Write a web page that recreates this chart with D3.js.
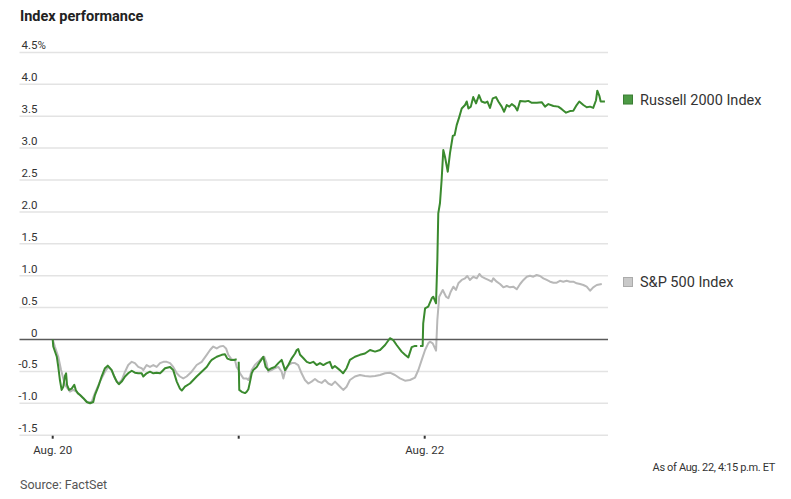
<!DOCTYPE html>
<html>
<head>
<meta charset="utf-8">
<script src="https://cdn.jsdelivr.net/npm/d3@7"></script>
<style>
  html, body { margin: 0; padding: 0; background: #fff; }
  svg { display: block; }
</style>
</head>
<body>
<svg id="chart" width="791" height="499"></svg>
<script>
// ---- DATA (time in trading days since Aug. 20 open; values in % change) ----
const dayTicks = [0, 1, 2];
const dayLabels = ["Aug. 20", "", "Aug. 22"];
const yTicks = [-1.5, -1.0, -0.5, 0, 0.5, 1.0, 1.5, 2.0, 2.5, 3.0, 3.5, 4.0, 4.5];
const yTickLabels = ["-1.5", "-1.0", "-0.5", "0", "0.5", "1.0", "1.5", "2.0", "2.5", "3.0", "3.5", "4.0", "4.5"];
const seriesNames = ["Russell 2000 Index", "S&P 500 Index"];

const russellTimes = [
  0, 0.003, 0.022, 0.030, 0.039, 0.048, 0.057, 0.066, 0.072, 0.077, 0.088, 0.102, 0.116, 0.124, 0.134, 0.147,
  0.165, 0.183, 0.201, 0.218, 0.227, 0.245, 0.263, 0.281, 0.296, 0.308, 0.317, 0.331, 0.344, 0.356, 0.371,
  0.389, 0.406, 0.425, 0.442, 0.460, 0.478, 0.487, 0.505, 0.523, 0.541, 0.559, 0.577, 0.586, 0.604, 0.631,
  0.648, 0.667, 0.684, 0.694, 0.711, 0.738, 0.774, 0.801, 0.828, 0.846, 0.855, 0.882, 0.909, 0.926, 0.939,
  0.957, 0.975, 0.989, 0.995,
  1.000, 1.003, 1.016, 1.034, 1.043, 1.052, 1.061, 1.070, 1.078, 1.097, 1.114, 1.132, 1.145, 1.159, 1.177,
  1.195, 1.213, 1.231, 1.249, 1.267, 1.285, 1.303, 1.312, 1.320, 1.330, 1.347, 1.366, 1.383, 1.401, 1.419,
  1.437, 1.455, 1.473, 1.490, 1.503, 1.517, 1.544, 1.561, 1.580, 1.598, 1.625, 1.652, 1.679, 1.706, 1.733,
  1.760, 1.787, 1.813, 1.831, 1.849, 1.876, 1.894, 1.912, 1.930, 1.948, 1.960, 1.968,
  1.975, 1.989, 1.992, 2.002, 2.019, 2.038, 2.046, 2.061, 2.068, 2.073, 2.082, 2.091, 2.100, 2.109, 2.124,
  2.136, 2.151, 2.161, 2.172, 2.186, 2.199, 2.217, 2.226, 2.235, 2.248, 2.261, 2.276, 2.292, 2.306, 2.324,
  2.337, 2.351, 2.366, 2.383, 2.396, 2.414, 2.427, 2.441, 2.455, 2.468, 2.486, 2.498, 2.513, 2.540, 2.557,
  2.576, 2.603, 2.629, 2.647, 2.665, 2.692, 2.718, 2.737, 2.760, 2.781, 2.799, 2.817, 2.831, 2.853, 2.871,
  2.889, 2.906, 2.921, 2.928, 2.939, 2.946, 2.969
];
const russellValues = [
  0, -0.11, -0.27, -0.43, -0.64, -0.79, -0.74, -0.57, -0.53, -0.71, -0.79, -0.77, -0.71, -0.79, -0.84, -0.87,
  -0.92, -0.98, -1.00, -0.98, -0.87, -0.74, -0.58, -0.45, -0.41, -0.45, -0.48, -0.58, -0.66, -0.70, -0.66,
  -0.58, -0.53, -0.49, -0.52, -0.53, -0.53, -0.58, -0.53, -0.505, -0.53, -0.52, -0.53, -0.505, -0.45, -0.43,
  -0.48, -0.66, -0.77, -0.80, -0.74, -0.69, -0.58, -0.505, -0.43, -0.35, -0.32, -0.27, -0.24, -0.23, -0.30,
  -0.32, -0.32, -0.31, null,
  -0.35, -0.79, -0.82, -0.84, -0.82, -0.78, -0.66, -0.53, -0.48, -0.43, -0.35, -0.27, -0.43, -0.48, -0.45,
  -0.43, -0.37, -0.32, -0.48, -0.40, -0.295, -0.22, -0.165, -0.15, -0.24, -0.29, -0.35, -0.37, -0.35, -0.40,
  -0.37, -0.40, -0.37, -0.35, -0.45, -0.415, -0.48, -0.53, -0.45, -0.32, -0.27, -0.24, -0.22, -0.165, -0.19,
  -0.165, -0.086, 0.02, -0.01, -0.086, -0.19, -0.24, -0.28, -0.12, -0.10, -0.10, null,
  -0.10, -0.10, 0.254, 0.489, 0.514, 0.646, 0.671, 0.567, 1.246, 1.978, 2.135, 2.50, 2.97, 2.865, 2.63,
  2.92, 3.19, 3.205, 3.36, 3.49, 3.62, 3.675, 3.73, 3.62, 3.65, 3.80, 3.70, 3.83, 3.73, 3.71,
  3.73, 3.63, 3.78, 3.80, 3.73, 3.65, 3.57, 3.675, 3.65, 3.69, 3.65, 3.59, 3.74, 3.73, 3.74,
  3.71, 3.71, 3.72, 3.65, 3.69, 3.66, 3.65, 3.61, 3.555, 3.58, 3.585, 3.675, 3.73, 3.675, 3.64,
  3.65, 3.63, 3.75, 3.90, 3.82, 3.73, 3.73
];

const spTimes = [
  0, 0.012, 0.030, 0.045, 0.066, 0.093, 0.111, 0.129, 0.147, 0.174, 0.191, 0.210, 0.227, 0.254, 0.281, 0.299,
  0.317, 0.335, 0.353, 0.371, 0.389, 0.406, 0.425, 0.442, 0.460, 0.478, 0.487, 0.505, 0.523, 0.541, 0.559,
  0.577, 0.595, 0.613, 0.631, 0.648, 0.667, 0.684, 0.702, 0.720, 0.747, 0.774, 0.801, 0.828, 0.846, 0.863,
  0.882, 0.899, 0.917, 0.932, 0.944, 0.962, 0.980, 0.989,
  1.000, 1.007, 1.025, 1.043, 1.052, 1.061, 1.070, 1.087, 1.105, 1.123, 1.137, 1.150, 1.159, 1.177, 1.195,
  1.213, 1.231, 1.240, 1.249, 1.267, 1.285, 1.303, 1.320, 1.338, 1.356, 1.374, 1.392, 1.410, 1.428, 1.446,
  1.464, 1.482, 1.500, 1.518, 1.545, 1.562, 1.580, 1.598, 1.625, 1.652, 1.679, 1.706, 1.733, 1.760, 1.787,
  1.813, 1.840, 1.867, 1.894, 1.921, 1.948, 1.966, 1.984,
  2.002, 2.019, 2.028, 2.043, 2.061, 2.068, 2.078, 2.097, 2.115, 2.127, 2.140, 2.154, 2.168, 2.181, 2.199,
  2.217, 2.229, 2.243, 2.261, 2.280, 2.294, 2.306, 2.324, 2.342, 2.360, 2.369, 2.387, 2.405, 2.423, 2.441,
  2.459, 2.476, 2.495, 2.513, 2.531, 2.549, 2.566, 2.584, 2.602, 2.620, 2.638, 2.656, 2.674, 2.692, 2.710,
  2.727, 2.745, 2.763, 2.781, 2.799, 2.817, 2.835, 2.853, 2.871, 2.889, 2.906, 2.925, 2.952
];
const spValues = [
  0, -0.113, -0.27, -0.478, -0.713, -0.818, -0.79, -0.82, -0.87, -0.95, -0.99, -0.975, -0.84, -0.66, -0.505, -0.43,
  -0.48, -0.61, -0.69, -0.635, -0.505, -0.40, -0.35, -0.37, -0.43, -0.45, -0.48, -0.40, -0.43, -0.40, -0.43,
  -0.37, -0.35, -0.35, -0.37, -0.43, -0.53, -0.58, -0.61, -0.58, -0.505, -0.40, -0.35, -0.24, -0.165, -0.11,
  -0.14, -0.11, -0.10, -0.14, -0.24, -0.31, -0.32, -0.43,
  -0.48, -0.53, -0.61, -0.61, -0.635, -0.58, -0.48, -0.40, -0.35, -0.295, -0.27, -0.37, -0.505, -0.48, -0.45,
  -0.43, -0.505, -0.61, -0.505, -0.40, -0.37, -0.37, -0.40, -0.53, -0.635, -0.69, -0.66, -0.62, -0.66, -0.68,
  -0.635, -0.69, -0.713, -0.66, -0.74, -0.79, -0.74, -0.635, -0.58, -0.556, -0.572, -0.58, -0.572, -0.556, -0.53,
  -0.52, -0.556, -0.61, -0.646, -0.635, -0.596, -0.478, -0.32,
  -0.165, -0.06, -0.034, -0.06, -0.175, 0.306, 0.671, 0.776, 0.671, 0.646, 0.749, 0.828, 0.776, 0.881, 0.933,
  0.959, 0.995, 0.933, 0.984, 0.959, 1.027, 0.984, 0.959, 0.933, 0.906, 0.959, 0.906, 0.87, 0.818, 0.839,
  0.818, 0.828, 0.787, 0.87, 0.933, 0.984, 1.00, 0.984, 1.011, 0.995, 0.959, 0.933, 0.906, 0.89, 0.89,
  0.92, 0.906, 0.92, 0.906, 0.906, 0.88, 0.87, 0.854, 0.828, 0.765, 0.818, 0.854, 0.87
];

// ---- LAYOUT ----
const svg = d3.select("#chart");
const W = 791, H = 499;
const gridLeft = 19.5, gridRight = 608;
const x = d3.scaleLinear().domain([0, 3]).range([52.7, 610.7]);
const y = d3.scaleLinear().domain([-1.5, 4.5]).range([435.2, 52.4]);

const colors = { russell: "#3a8a2e", sp: "#b8b8b8" };
const fontMain = "Roboto, 'Noto Sans', sans-serif";

svg.append("rect").attr("width", W).attr("height", H).attr("fill", "#fff");

// Title
svg.append("text")
  .attr("x", 20).attr("y", 21)
  .attr("font-family", fontMain).attr("font-weight", "700")
  .attr("font-size", 14.5).attr("fill", "#222")
  .text("Index performance");

// Gridlines
const grid = svg.append("g");
grid.selectAll("line").data(yTicks.filter(d => d !== 0)).join("line")
  .attr("x1", gridLeft).attr("x2", gridRight)
  .attr("y1", d => y(d)).attr("y2", d => y(d))
  .attr("stroke", "#e3e3e3").attr("stroke-width", 1.5);

// Y tick labels
const yl = svg.append("g").attr("font-family", fontMain).attr("font-size", 11.5).attr("fill", "#333");
yTicks.forEach((t, i) => {
  yl.append("text")
    .attr("x", 37.5).attr("y", y(t) - 3)
    .attr("text-anchor", "end")
    .text(yTickLabels[i]);
  if (i === yTicks.length - 1) {
    yl.append("text").attr("x", 37.5).attr("y", y(t) - 3).text("%");
  }
});

// X axis ticks
const xa = svg.append("g");
xa.selectAll("line").data(dayTicks).join("line")
  .attr("x1", d => x(d)).attr("x2", d => x(d))
  .attr("y1", y(-1.5) + 0.5).attr("y2", y(-1.5) + 3.5)
  .attr("stroke", "#333").attr("stroke-width", 2);
xa.selectAll("text").data(dayTicks).join("text")
  .attr("x", d => x(d)).attr("y", 454)
  .attr("text-anchor", "middle")
  .attr("font-family", fontMain).attr("font-size", 11.5).attr("fill", "#333")
  .text((d, i) => dayLabels[i]);

// Lines
const lineGen = d3.line()
  .defined(d => d[1] !== null)
  .x(d => x(d[0])).y(d => y(d[1]));

const spData = spTimes.map((t, i) => [t, spValues[i]]);
const ruData = russellTimes.map((t, i) => [t, russellValues[i]]);

svg.append("path").datum(spData)
  .attr("d", lineGen).attr("fill", "none")
  .attr("stroke", colors.sp).attr("stroke-width", 2)
  .attr("stroke-linejoin", "round");

// Zero line
svg.append("line")
  .attr("x1", gridLeft).attr("x2", gridRight)
  .attr("y1", y(0)).attr("y2", y(0))
  .attr("stroke", "#5a5a5a").attr("stroke-width", 1.5);

svg.append("path").datum(ruData)
  .attr("d", lineGen).attr("fill", "none")
  .attr("stroke", colors.russell).attr("stroke-width", 2)
  .attr("stroke-linejoin", "round");

// Legend (at last values)
const lastRu = russellValues[russellValues.length - 1];
const lastSp = spValues[spValues.length - 1];
const legend = [
  { name: seriesNames[0], v: lastRu, fill: "#4d9a45", stroke: "#3a7d33" },
  { name: seriesNames[1], v: lastSp, fill: "#c9c9c9", stroke: "#ababab" }
];
legend.forEach(l => {
  const cy = y(l.v) - 2;
  svg.append("rect")
    .attr("x", 623.5).attr("y", cy - 4.5).attr("width", 9).attr("height", 9)
    .attr("fill", l.fill).attr("stroke", l.stroke).attr("stroke-width", 1);
  svg.append("text")
    .attr("x", 640).attr("y", cy + 5.5)
    .attr("font-family", fontMain).attr("font-size", 14.5).attr("fill", "#333")
    .text(l.name);
});

// Footer
svg.append("text")
  .attr("x", 775).attr("y", 471)
  .attr("text-anchor", "end")
  .attr("font-family", fontMain).attr("font-size", 11).attr("fill", "#333")
  .attr("letter-spacing", "-0.35px")
  .text("As of Aug. 22, 4:15 p.m. ET");

svg.append("text")
  .attr("x", 20).attr("y", 489)
  .attr("font-family", fontMain).attr("font-size", 12.5).attr("fill", "#555")
  .text("Source: FactSet");
</script>
</body>
</html>
